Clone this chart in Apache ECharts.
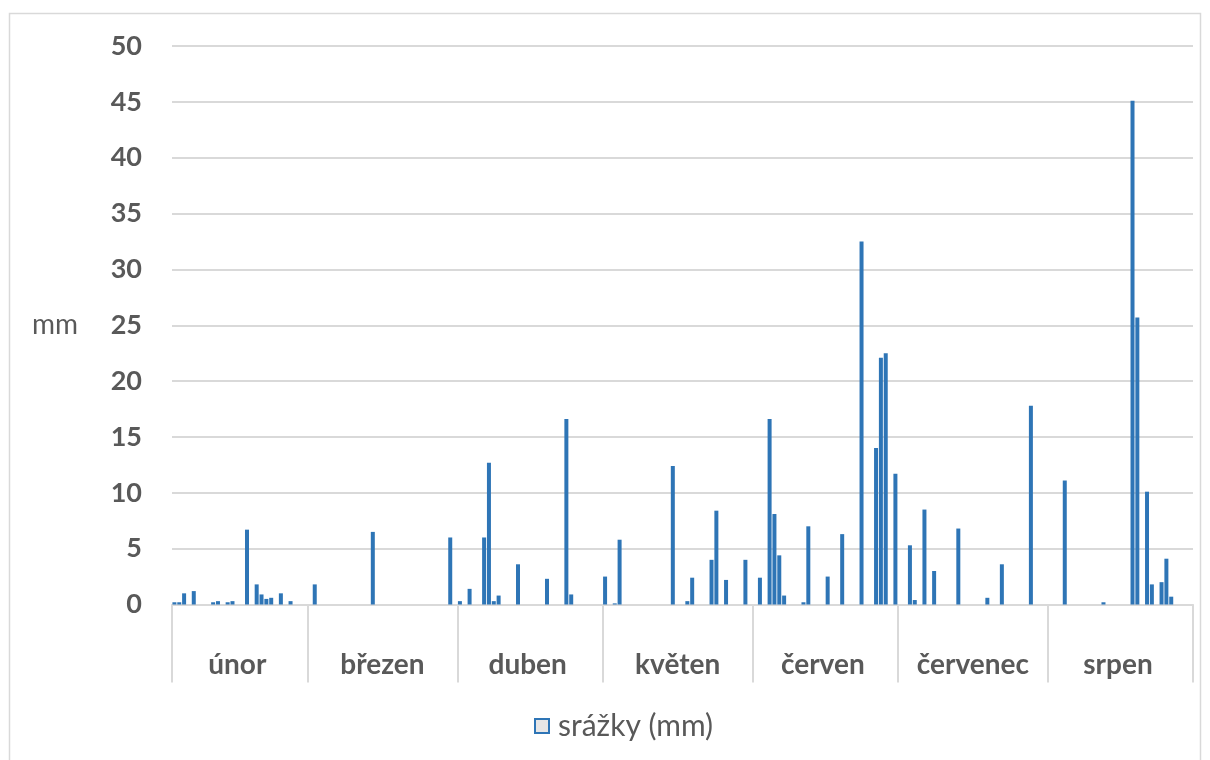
<!DOCTYPE html>
<html><head><meta charset="utf-8">
<script src="https://cdn.jsdelivr.net/npm/echarts@6/dist/echarts.min.js"></script>
<style>html,body{margin:0;padding:0;background:#fff}#c{width:1210px;height:760px}</style>
</head><body><div id="c"></div>
<script>
const months = ['únor','březen','duben','květen','červen','červenec','srpen'];
// daily precipitation (mm), one value per day
const unor     = [0.2,0.2,1.0,0,1.2,0,0,0,0.2,0.3,0,0.2,0.3,0,0,6.7,0,1.8,0.9,0.5,0.6,0,1.0,0,0.3,0,0,0];
const brezen   = [0,1.8,0,0,0,0,0,0,0,0,0,0,0,6.5,0,0,0,0,0,0,0,0,0,0,0,0,0,0,0,6.0,0];
const duben    = [0.3,0,1.4,0,0,6.0,12.7,0.3,0.8,0,0,0,3.6,0,0,0,0,0,2.3,0,0,0,16.6,0.9,0,0,0,0,0,0];
const kveten   = [2.5,0,0.1,5.8,0,0,0,0,0,0,0,0,0,0,12.4,0,0,0.3,2.4,0,0,0,4.0,8.4,0,2.2,0,0,0,4.0,0];
const cerven   = [0,2.4,0,16.6,8.1,4.4,0.8,0,0,0,0.2,7.0,0,0,0,2.5,0,0,6.3,0,0,0,32.5,0,0,14.0,22.1,22.5,0,11.7];
const cervenec = [0,0,5.3,0.4,0,8.5,0,3.0,0,0,0,0,6.8,0,0,0,0,0,0.6,0,0,3.6,0,0,0,0,0,17.8,0,0,0];
const srpen    = [0,0,0,11.1,0,0,0,0,0,0,0,0.2,0,0,0,0,0,45.1,25.7,0,10.1,1.8,0,2.0,4.1,0.7,0,0,0,0];
const yTicks = [0,5,10,15,20,25,30,35,40,45,50];

const monthValues = [unor, brezen, duben, kveten, cerven, cervenec, srpen];
const categories = [], values = [], monthStart = new Set(), labelIdx = new Set();
let idx = 0;
monthValues.forEach((arr, m) => {
  monthStart.add(idx);
  labelIdx.add(idx + Math.floor((arr.length - 1) / 2));
  arr.forEach((v, d) => { categories.push(months[m] + ' ' + (d + 1)); values.push(v); });
  idx += arr.length;
});

const chart = echarts.init(document.getElementById('c'));
chart.setOption({
  backgroundColor: '#ffffff',
  animation: false,
  textStyle: { fontFamily: 'Lato' },
  graphic: [{
    type: 'rect', silent: true, z: -1,
    shape: { x: 9.5, y: 13.5, width: 1191, height: 770 },
    style: { fill: 'none', stroke: '#d9d9d9', lineWidth: 1.5 }
  }],
  grid: { left: 172, right: 17, top: 46, bottom: 155.5, containLabel: false },
  legend: {
    data: ['srážky (mm)'], bottom: 14, left: 529,
    itemWidth: 14, itemHeight: 14, itemGap: 8, icon: 'rect',
    itemStyle: { color: '#e7e6e6', borderColor: '#2e75b6', borderWidth: 2 },
    textStyle: { fontFamily: 'Lato', fontSize: 30, color: '#595959', padding: [0, 0, 0, 4] }
  },
  xAxis: {
    type: 'category', data: categories, boundaryGap: true,
    axisLine: { show: true, lineStyle: { color: '#d9d9d9', width: 2 } },
    axisTick: { show: true, length: 78, interval: (i) => monthStart.has(i), lineStyle: { color: '#d9d9d9', width: 2 } },
    axisLabel: {
      interval: (i) => labelIdx.has(i),
      formatter: (v) => v.split(' ')[0],
      fontFamily: 'Lato', fontSize: 28, fontWeight: 'bold', color: '#595959',
      margin: 46, lineHeight: 28
    },
    splitLine: { show: false }
  },
  yAxis: {
    type: 'value', min: 0, max: 50, interval: 5,
    name: 'mm', nameLocation: 'middle', nameRotate: 0, nameGap: 94,
    nameTextStyle: { fontFamily: 'Lato', fontSize: 28, color: '#595959' },
    axisLine: { show: false }, axisTick: { show: false },
    axisLabel: { fontFamily: 'Lato', fontSize: 27, fontWeight: 'bold', color: '#595959', margin: 30,
      formatter: (v) => yTicks.includes(v) ? String(v) : '' },
    splitLine: { lineStyle: { color: '#d9d9d9', width: 2 } }
  },
  series: [{
    name: 'srážky (mm)', type: 'bar', data: values, barWidth: 4,
    itemStyle: { color: '#2e75b6' }
  }]
});
</script>
</body></html>
